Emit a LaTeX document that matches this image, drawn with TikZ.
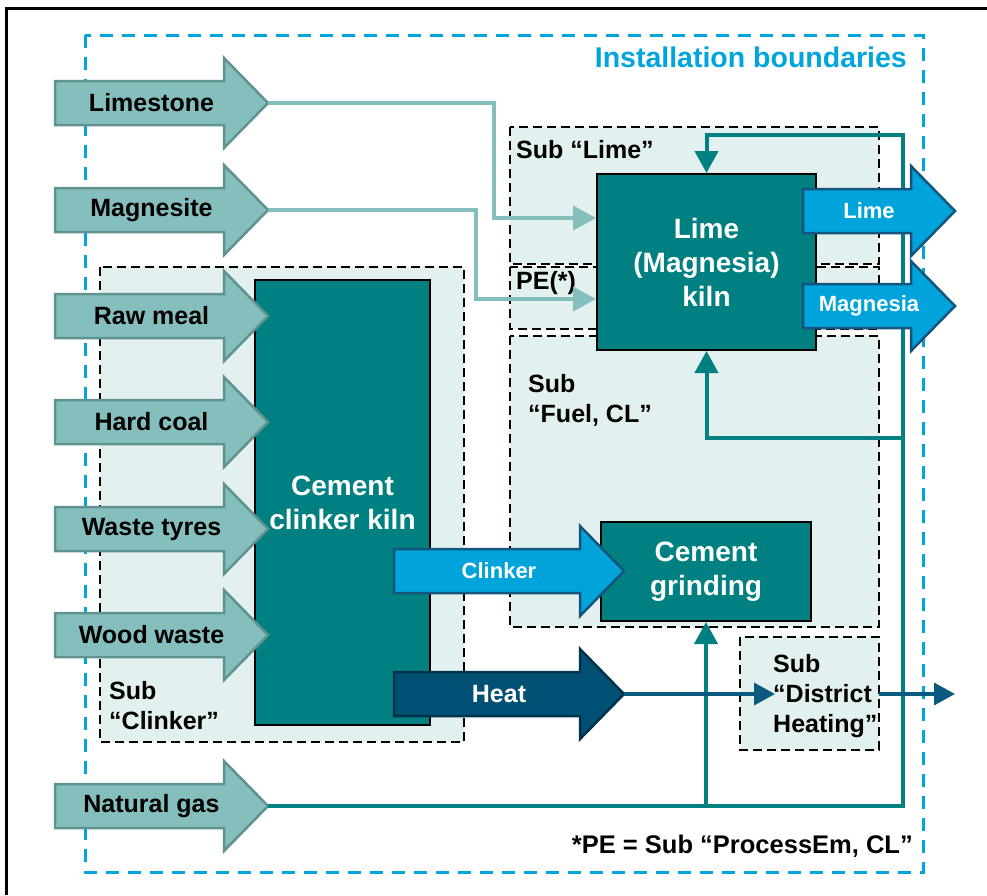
\documentclass[tikz,border=0pt]{standalone}
\usepackage{fontspec}
\setmainfont{Liberation Sans}
\usetikzlibrary{arrows.meta}
\definecolor{intake}{RGB}{132,191,189}
\definecolor{intakeedge}{RGB}{96,146,144}
\definecolor{kilnteal}{RGB}{0,128,128}
\definecolor{subfill}{RGB}{226,240,240}
\definecolor{prodblue}{RGB}{0,163,218}
\definecolor{prodedge}{RGB}{20,85,125}
\definecolor{heatblue}{RGB}{0,80,115}
\definecolor{heatedge}{RGB}{0,50,75}
\definecolor{heatwire}{RGB}{10,90,128}
\definecolor{bound}{RGB}{0,165,222}
\newcommand\fatarrow[6]{
  \filldraw[#5] (#2,#4-22) -- (#3-44,#4-22) -- (#3-44,#4-45) -- (#3,#4) -- (#3-44,#4+45) -- (#3-44,#4+22) -- (#2,#4+22) -- cycle;
\node[#5txt] (#1) at ({(#2+#3)/2-10},#4) {#6};
\coordinate (#1tip) at (#3,#4);
}
\tikzset{
  subbox/.style={fill=subfill, draw=black, line width=2.5pt, dash pattern=on 9pt off 5pt},
  sublabel/.style={font=\fontsize{25}{30}\selectfont\bfseries, align=left, inner sep=0pt, anchor=base west},
  kiln/.style={draw=black, line width=2pt, fill=kilnteal, text=white, font=\fontsize{28}{34}\selectfont\bfseries, align=center, inner sep=0pt},
  inflow/.style={fill=intake, draw=intakeedge, line width=2.5pt},
  inflowtxt/.style={font=\fontsize{25}{30}\selectfont\bfseries, inner sep=0pt},
  product/.style={fill=prodblue, draw=prodedge, line width=2.5pt},
  producttxt/.style={text=white, font=\fontsize{22}{26}\selectfont\bfseries, inner sep=0pt},
  heat/.style={fill=heatblue, draw=heatedge, line width=2.5pt},
  heattxt/.style={text=white, font=\fontsize{25}{30}\selectfont\bfseries, inner sep=0pt},
  feedline/.style={intake, line width=4pt, -{Triangle[length=23pt,width=24pt]}},
  gasline/.style={kilnteal, line width=4pt, -{Triangle[length=22pt,width=23pt]}},
  heatline/.style={heatwire, line width=3.5pt, -{Triangle[length=21pt,width=22pt]}}
}

\begin{document}
\begin{tikzpicture}[x=1pt, y=-1pt]
\useasboundingbox (0,0) rectangle (987,895);
\draw[line width=3pt] (6,895) -- (6,8) -- (987,8);
\draw[bound, line width=3pt, dash pattern=on 13pt off 9pt] (85,35) rectangle (923,872);
\node[font=\fontsize{28.5}{34}\selectfont\bfseries, text=bound, inner sep=0pt, anchor=base east] (install) at (907,67) {Installation boundaries};
\node[font=\fontsize{25.5}{30}\selectfont\bfseries, inner sep=0pt, anchor=base east] (penote) at (913,853) {*PE = Sub “ProcessEm, CL”};

\filldraw[subbox] (100,267) rectangle (464,742);
\filldraw[subbox] (510,127) rectangle (879,264);
\filldraw[subbox] (510,267) rectangle (879,329);
\filldraw[subbox] (510,336) rectangle (879,627);
\filldraw[subbox] (740,637) rectangle (879,750);
\node[sublabel] (sublime) at (516,158) {Sub “Lime”};
\node[sublabel] (subpe) at (516,289) {PE(*)};
\node[sublabel] (subfuel) at (528,422) {Sub\\“Fuel, CL”};
\node[sublabel] (subclinker) at (109,729) {Sub\\“Clinker”};
\node[sublabel] (subdh) at (773,732) {Sub\\“District\\Heating”};

\node[kiln, minimum width=175pt, minimum height=445pt] (ckiln) at (342.5,502.5) {Cement\\clinker kiln};
\node[kiln, minimum width=219pt, minimum height=176pt] (lkiln) at (706.5,262) {Lime\\(Magnesia)\\kiln};
\node[kiln, minimum width=210pt, minimum height=99pt] (grind) at (706,571.5) {Cement\\grinding};

\fatarrow{limestone}{55}{268}{103}{inflow}{Limestone}
\fatarrow{magnesite}{55}{268}{210}{inflow}{Magnesite}
\fatarrow{rawmeal}{55}{268}{316}{inflow}{Raw meal}
\fatarrow{hardcoal}{55}{268}{422}{inflow}{Hard coal}
\fatarrow{tyres}{55}{268}{529}{inflow}{Waste tyres}
\fatarrow{woodwaste}{55}{268}{635}{inflow}{Wood waste}
\fatarrow{gas}{55}{268}{806}{inflow}{Natural gas}
\fatarrow{clinker}{394}{624}{571}{product}{Clinker}
\fatarrow{heat}{394}{624}{694}{heat}{Heat}

\draw[feedline] (limestonetip) -- (494,103) |- (lkiln.west |- 0,218);
\draw[feedline] (magnesitetip) -- (476,210) |- (lkiln.west |- 0,299);
\coordinate (gasbend) at (903,806);
\draw[gasline] (gastip) -- (gasbend) -- (903,135) -| (lkiln.north);
\draw[gasline] (903,438) -| (lkiln.south);
\draw[gasline] (grind.south |- gastip) -- (grind.south);
\coordinate (dhin) at (775,694);
\coordinate (dhedge) at (879,694);
\coordinate (dhout) at (955,694);
\draw[heatline] (heattip) -- (dhin);
\draw[heatline] (dhedge) -- (dhout);

\fatarrow{lime}{803}{955}{211}{product}{Lime}
\fatarrow{magnesia}{803}{955}{306}{product}{Magnesia}
\end{tikzpicture}
\end{document}
